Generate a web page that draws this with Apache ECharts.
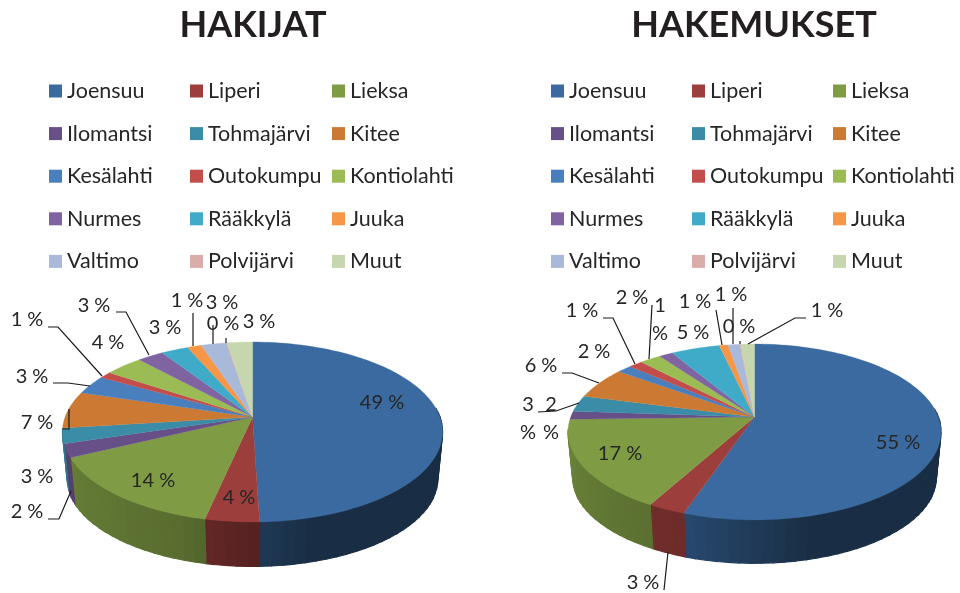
<!DOCTYPE html>
<html>
<head>
<meta charset="utf-8">
<style>
  html, body { margin: 0; padding: 0; background: #fff; }
  #chart { width: 960px; height: 593px; }
</style>
<script src="https://cdn.jsdelivr.net/npm/echarts@6/dist/echarts.min.js"></script>
</head>
<body>
<div id="chart"></div>
<script>
// 数据
const categories = ['Joensuu', 'Liperi', 'Lieksa', 'Ilomantsi', 'Tohmajärvi', 'Kitee', 'Kesälahti', 'Outokumpu', 'Kontiolahti', 'Nurmes', 'Rääkkylä', 'Juuka', 'Valtimo', 'Polvijärvi', 'Muut'];
const hakijat = [49.2, 3.9, 14.4, 2.4, 2.7, 6.6, 3.4, 1.2, 3.8, 2.6, 2.7, 1.4, 2.5, 0.1, 2.5];
const hakemukset = [55.4, 2.8, 16.6, 1.5, 3.0, 5.9, 1.5, 1.4, 2.2, 1.4, 5.0, 0.9, 1.2, 0.1, 1.4];
const colors = ['#3a6a9f', '#9c3e3c', '#7f9c44', '#674f87', '#3b8ca6', '#cc7a33', '#4a7fbd', '#c24d4a', '#9bbb55', '#8064a2', '#40abc8', '#f79646', '#a9b9d9', '#daacaa', '#c6d6ae'];

const FONT = 'Lato';
const TEXT_COLOR = '#262626';

// 饼图的投影参数
const leftPie = { cx: 252.5, cy: 417, rx: 187.4, ry: 87.5, k: 0.167, depth: 47, shrink: 0.975 };
const rightPie = { cx: 754.5, cy: 417, rx: 183.8, ry: 85.4, k: 0.17, depth: 46, shrink: 0.975 };

// 标签位置 [x, y, 引导线]
const leftLabels = [
  [382, 403], [239, 498], [153, 481],
  [27, 512, [[48, 519], [59, 519], [71, 491]]],
  [37, 477],
  [37, 423, [[62, 429], [69, 429], [69, 409]]],
  [32, 377, [[53, 383], [68, 383], [90, 386]]],
  [27, 320, [[48, 327], [58, 327], [102, 376]]],
  [108, 343],
  [94, 306, [[116, 312], [126, 312], [149, 355]]],
  [165, 328],
  [187, 301, [[193, 313], [193, 346]]],
  [222, 303, [[213, 325], [213, 344]]],
  [223, 324, [[226, 338], [226, 343]]],
  [259, 322]
];
const rightLabels = [
  [898, 443],
  [643, 583, [[664, 590], [668, 552]]],
  [620, 454],
  [551, 419],
  [528, 419, [[538, 412], [556, 411], [579, 403]]],
  [541, 366, [[562, 373], [572, 373], [599, 383]]],
  [594, 352],
  [582, 311, [[603, 318], [613, 318], [635, 364]]],
  [632, 298, [[652, 305], [649, 359]]],
  [660, 320],
  [693, 333],
  [695, 302, [[716, 310], [722, 345]]],
  [731, 295, [[733, 308], [733, 344]]],
  [739, 327, [[740, 341], [740, 344]]],
  [827, 311, [[806, 318], [795, 318], [748, 344]]]
];
// 换行显示的标签
const rightWrapped = [3, 4, 9];

// 圆盘上的点投影到屏幕
const rimPoint = (pie, angle, scale, dy) => {
  const rad = angle * Math.PI / 180;
  const u = Math.sin(rad);
  const v = -Math.cos(rad);
  const w = 1 - pie.k * v;
  return [pie.cx + pie.rx * scale * u / w, pie.cy + dy + pie.ry * scale * v / w];
};

// 每个扇区的起止角度
const sliceAngles = (values) => {
  const total = values.reduce((a, b) => a + b, 0);
  let sum = 0;
  return values.map(val => {
    const start = sum / total * 360;
    sum += val;
    return [start, sum / total * 360];
  });
};

// 侧面亮度，朝左亮，朝右暗
const wallShade = (angle) => {
  if (angle < 165) return 0.43;
  if (angle < 200) return 0.43 + (angle - 165) / 35 * 0.27;
  return Math.min(0.86, 0.7 + (angle - 200) / 70 * 0.16);
};

const darken = (hex, f) => {
  const n = parseInt(hex.slice(1), 16);
  const r = Math.round((n >> 16 & 255) * f);
  const g = Math.round((n >> 8 & 255) * f);
  const b = Math.round((n & 255) * f);
  return `rgb(${r},${g},${b})`;
};

const wallSeries = (pie, values) => {
  const angles = sliceAngles(values);
  return {
    type: 'custom',
    coordinateSystem: 'none',
    silent: true,
    z: 2,
    data: values,
    renderItem: (params) => {
      const i = params.dataIndex;
      // 只画看得见的侧面
      const from = Math.max(angles[i][0], 85);
      const to = Math.min(angles[i][1], 262);
      const children = [];
      for (let a = from; a < to; a += 3) {
        const b = Math.min(a + 3, to);
        const fill = darken(colors[i], wallShade((a + b) / 2));
        children.push({
          type: 'polygon',
          shape: {
            points: [
              rimPoint(pie, a, 1, 0),
              rimPoint(pie, b, 1, 0),
              rimPoint(pie, b, pie.shrink, pie.depth),
              rimPoint(pie, a, pie.shrink, pie.depth)
            ]
          },
          style: { fill: fill, stroke: fill, lineWidth: 1.2 }
        });
      }
      return { type: 'group', children: children };
    }
  };
};

const topSeries = (pie, values) => {
  const angles = sliceAngles(values);
  return {
    type: 'custom',
    coordinateSystem: 'none',
    silent: true,
    z: 3,
    data: values,
    renderItem: (params) => {
      const i = params.dataIndex;
      const points = [[pie.cx, pie.cy]];
      const steps = Math.ceil((angles[i][1] - angles[i][0]) / 2) + 1;
      for (let s = 0; s <= steps; s++) {
        points.push(rimPoint(pie, angles[i][0] + (angles[i][1] - angles[i][0]) * s / steps, 1, 0));
      }
      return {
        type: 'polygon',
        shape: { points: points },
        style: { fill: colors[i], stroke: colors[i], lineWidth: 0.3 }
      };
    }
  };
};

// 只用来给图例提供名称和颜色
const legendSource = (values) => ({
  type: 'pie',
  radius: 0,
  center: [-50, -50],
  silent: true,
  label: { show: false },
  labelLine: { show: false },
  data: categories.map((name, i) => ({ name: name, value: values[i] }))
});

const legends = (lefts) => lefts.map((left, col) => ({
  orient: 'vertical',
  left: left,
  top: 79,
  padding: 0,
  icon: 'rect',
  itemWidth: 13,
  itemHeight: 13,
  itemGap: 18.6,
  selectedMode: false,
  textStyle: { fontFamily: FONT, fontSize: 21.5, color: TEXT_COLOR, lineHeight: 24 },
  data: categories.filter((_, i) => i % 3 === col)
}));

const labelGraphics = (values, spots, wrapped) => {
  const out = [];
  spots.forEach((spot, i) => {
    const num = Math.round(values[i]);
    out.push({
      type: 'text',
      z: 10,
      silent: true,
      style: {
        x: spot[0],
        y: spot[1],
        text: wrapped.includes(i) ? num + '\n%' : num + ' %',
        align: 'center',
        verticalAlign: 'middle',
        fontFamily: FONT,
        fontSize: 20,
        lineHeight: 28,
        fill: TEXT_COLOR
      }
    });
    if (spot[2]) {
      out.push({
        type: 'polyline',
        z: 9,
        silent: true,
        shape: { points: spot[2] },
        style: { fill: null, stroke: '#1a1a1a', lineWidth: 1.2 }
      });
    }
  });
  return out;
};

const titleStyle = { fontFamily: FONT, fontSize: 36, fontWeight: 'bold', color: '#231f20' };

const chart = echarts.init(document.getElementById('chart'));
chart.setOption({
  animation: false,
  backgroundColor: '#ffffff',
  color: colors,
  title: [
    { text: 'HAKIJAT', left: 253, top: 7, padding: 0, textAlign: 'center', textStyle: titleStyle },
    { text: 'HAKEMUKSET', left: 754, top: 7, padding: 0, textAlign: 'center', textStyle: titleStyle }
  ],
  legend: legends([49, 190, 332]).concat(legends([551, 692, 833])),
  series: [
    legendSource(hakijat),
    wallSeries(leftPie, hakijat),
    topSeries(leftPie, hakijat),
    wallSeries(rightPie, hakemukset),
    topSeries(rightPie, hakemukset)
  ],
  graphic: labelGraphics(hakijat, leftLabels, []).concat(labelGraphics(hakemukset, rightLabels, rightWrapped))
});
</script>
</body>
</html>
